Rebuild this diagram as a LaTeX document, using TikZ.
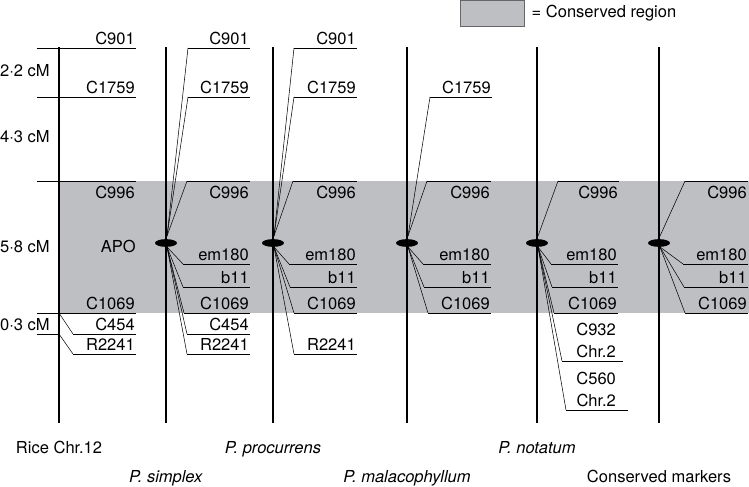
\documentclass[tikz,border=0pt]{standalone}
\usepackage{fontspec}
\setmainfont{TeX Gyre Heros}
\usetikzlibrary{shapes.geometric}

\definecolor{consgray}{RGB}{190,191,195}

\tikzset{
  chrom/.style={line width=1.5pt},
  tick/.style={line width=0.5pt},
  link/.style={line width=0.3pt},
  lbl/.style={anchor=base east, inner sep=0.5pt, yshift=2.2pt},
  lblb/.style={anchor=base east, inner sep=0.5pt, yshift=-10.2pt},
  lbltwo/.style={anchor=south east, align=center, inner sep=0.5pt, yshift=1pt},
  cent/.style={ellipse, fill=black, inner sep=0pt, minimum width=12.5pt, minimum height=4.4pt},
  spname/.style={anchor=base},
  cmlab/.style={anchor=base east, inner sep=0pt},
  keybox/.style={draw=black!60, line width=0.6pt, fill=consgray, minimum width=36.9pt, minimum height=15.3pt, inner sep=0pt}
}

% marker: [style] name, hub, bend x, y, end x, text
\newcommand{\mrk}[7][lbl]{%
  \coordinate (#2) at (#6,#5);
  \node[#1] (#2-t) at (#2) {#7};
  \draw[link] (#3) -- (#4,#5);
  \draw[tick] (#4,#5) -- (#2);
}

\begin{document}
\begin{tikzpicture}[x=0.02cm, y=-0.02cm, font=\fontsize{9.4}{11}\selectfont]
	\useasboundingbox (0,0) rectangle (749,486);

	% conserved region
	\fill[consgray] (59,181) rectangle (749,313);
	\node[keybox] (key) at (492.5,13.5) {};
	\node[anchor=west] (key-t) at (key.east) {= Conserved region};

	% chromosomes
	\foreach \n/\x/\ly/\lab in {rice/59/453/Rice Chr.12, sim/166/482/\textit{P. simplex}, pro/273/453/\textit{P. procurrens}, mal/407/482/\textit{P. malacophyllum}, nota/537/453/\textit{P. notatum}, cons/659/482/Conserved markers}{
		\coordinate (\n-top) at (\x,47);
		\coordinate (\n-bot) at (\x,423);
		\draw[chrom] (\n-top) -- (\n-bot);
		\node[spname] (\n-lab) at (\x,\ly) {\lab};
	}

	% rice chr.12
	\foreach \nm/\yy in {C901/48, C1759/97, C1069/313}{
		\coordinate (rice-\nm-s) at (37,\yy);
		\mrk{rice-\nm}{rice-\nm-s}{37}{\yy}{136}{\nm}
	}
	\coordinate (rice-C996-s) at (37,181);
	\mrk[lblb]{rice-C996}{rice-C996-s}{37}{181}{136}{C996}
	\coordinate (rice-h1) at (59,313);
	\coordinate (rice-h2) at (59,334);
	\mrk{rice-C454}{rice-h1}{73}{334}{136}{C454}
	\mrk{rice-R2241}{rice-h2}{73}{354}{136}{R2241}
	\coordinate (rice-h2-s) at (37,334);
	\draw[tick] (rice-h2-s) -- (rice-h2);
	\node[cmlab] (apo) at (136,252) {APO};

	\node[cmlab] (cm1) at (50,77) {2·2 cM};
	\node[cmlab] (cm2) at (50,143) {4·3 cM};
	\node[cmlab] (cm3) at (50,252) {5·8 cM};
	\node[cmlab] (cm4) at (50,330) {0·3 cM};

	% P. simplex
	\coordinate (sim-u) at (167,236);
	\coordinate (sim-d) at (167,247);
	\mrk{sim-C901}{sim-u}{188}{48}{250}{C901}
	\mrk{sim-C1759}{sim-u}{188}{97}{250}{C1759}
	\mrk[lblb]{sim-C996}{sim-u}{187}{181}{250}{C996}
	\mrk{sim-em180}{sim-d}{183}{264}{250}{em180}
	\mrk{sim-b11}{sim-d}{183}{287}{250}{b11}
	\mrk{sim-C1069}{sim-d}{184}{313}{250}{C1069}
	\mrk{sim-C454}{sim-d}{187}{334}{250}{C454}
	\mrk{sim-R2241}{sim-d}{187}{354}{250}{R2241}

	% P. procurrens
	\coordinate (pro-u) at (274,236);
	\coordinate (pro-d) at (274,247);
	\mrk{pro-C901}{pro-u}{294}{48}{357}{C901}
	\mrk{pro-C1759}{pro-u}{294}{97}{357}{C1759}
	\mrk[lblb]{pro-C996}{pro-u}{293}{181}{357}{C996}
	\mrk{pro-em180}{pro-d}{289}{264}{357}{em180}
	\mrk{pro-b11}{pro-d}{290}{287}{357}{b11}
	\mrk{pro-C1069}{pro-d}{294}{313}{357}{C1069}
	\mrk{pro-R2241}{pro-d}{294}{354}{357}{R2241}

	% P. malacophyllum
	\coordinate (mal-u) at (408,236);
	\coordinate (mal-d) at (408,247);
	\mrk{mal-C1759}{mal-u}{430}{97}{492}{C1759}
	\mrk[lblb]{mal-C996}{mal-u}{427}{181}{491}{C996}
	\mrk{mal-em180}{mal-d}{423}{264}{491}{em180}
	\mrk{mal-b11}{mal-d}{424}{287}{491}{b11}
	\mrk{mal-C1069}{mal-d}{428}{313}{491}{C1069}

	% P. notatum
	\coordinate (nota-u) at (538,236);
	\coordinate (nota-d) at (538,247);
	\mrk[lblb]{nota-C996}{nota-u}{558}{181}{619}{C996}
	\mrk{nota-em180}{nota-d}{551}{264}{618}{em180}
	\mrk{nota-b11}{nota-d}{552}{287}{618}{b11}
	\mrk{nota-C1069}{nota-d}{554}{313}{618}{C1069}
	\mrk[lbltwo, xshift=-3.4pt]{nota-C932}{nota-d}{562}{361}{623}{C932\\[1.5pt]Chr.2}
	\mrk[lbltwo, xshift=-6.2pt]{nota-C560}{nota-d}{566}{410}{628}{C560\\[1.5pt]Chr.2}

	% conserved markers
	\coordinate (cons-u) at (660,236);
	\coordinate (cons-d) at (660,247);
	\mrk[lblb]{cons-C996}{cons-u}{685}{181}{748}{C996}
	\mrk{cons-em180}{cons-d}{683}{264}{748}{em180}
	\mrk{cons-b11}{cons-d}{684}{287}{748}{b11}
	\mrk{cons-C1069}{cons-d}{685}{313}{748}{C1069}

	% centromeres
	\foreach \n/\x in {sim/166, pro/273, mal/407, nota/537, cons/659}
		\node[cent] (\n-c) at (\x,243) {};
\end{tikzpicture}
\end{document}
